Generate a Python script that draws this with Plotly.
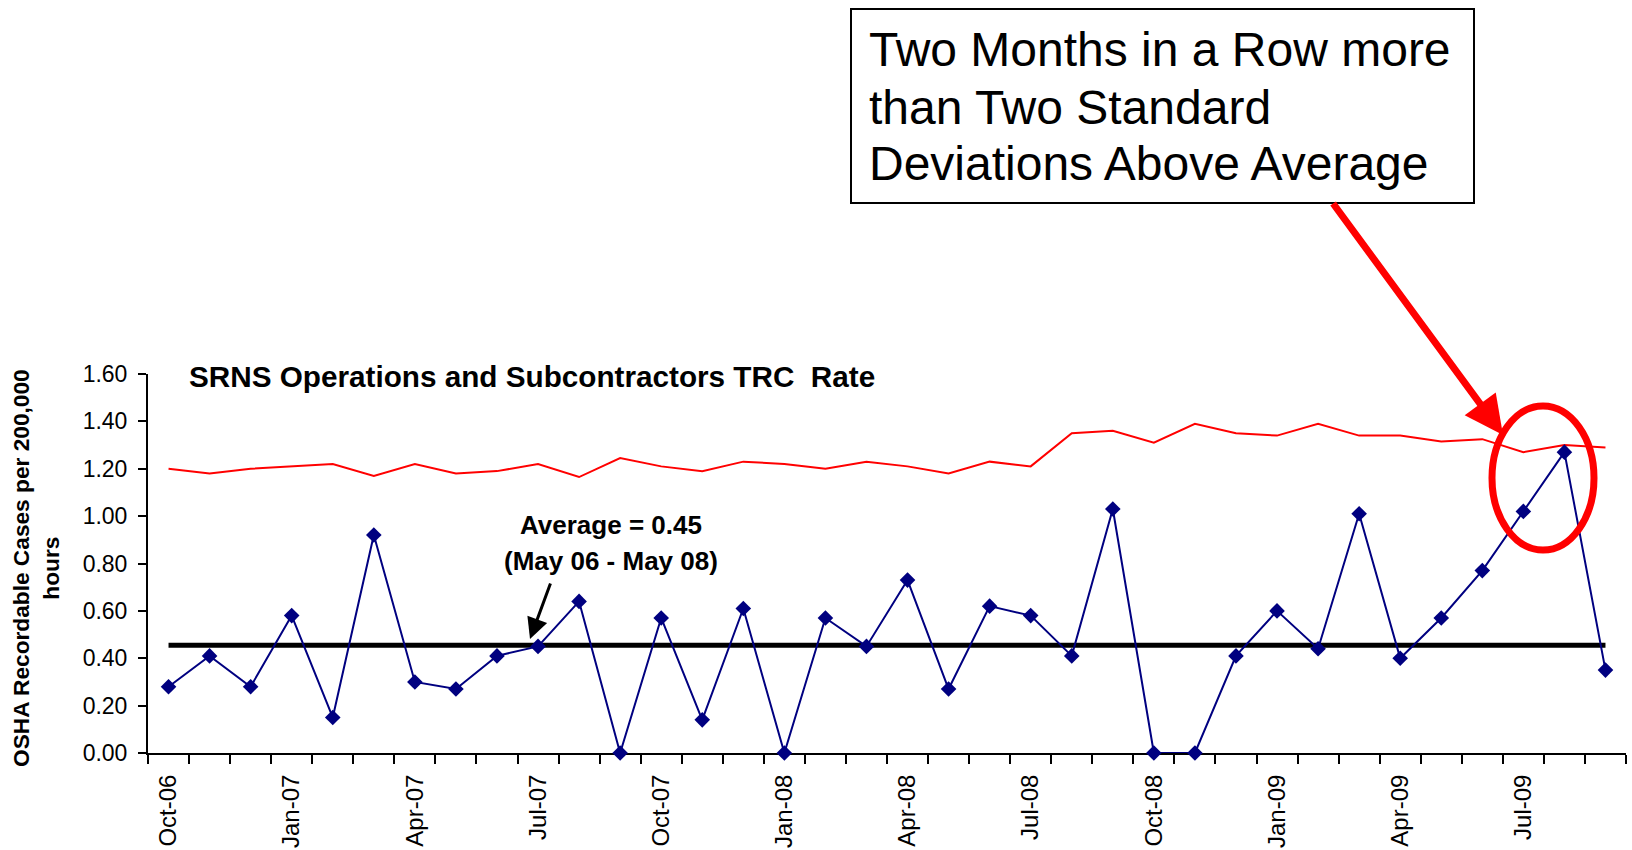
import plotly.graph_objects as go

# ---------------- data ----------------
categories = [
    "Oct-06", "Nov-06", "Dec-06", "Jan-07", "Feb-07", "Mar-07", "Apr-07", "May-07", "Jun-07",
    "Jul-07", "Aug-07", "Sep-07", "Oct-07", "Nov-07", "Dec-07", "Jan-08", "Feb-08", "Mar-08",
    "Apr-08", "May-08", "Jun-08", "Jul-08", "Aug-08", "Sep-08", "Oct-08", "Nov-08", "Dec-08",
    "Jan-09", "Feb-09", "Mar-09", "Apr-09", "May-09", "Jun-09", "Jul-09", "Aug-09", "Sep-09",
]
trc_rate = [0.28, 0.41, 0.28, 0.58, 0.15, 0.92, 0.30, 0.27, 0.41, 0.45, 0.64, 0.00,
            0.57, 0.14, 0.61, 0.00, 0.57, 0.45, 0.73, 0.27, 0.62, 0.58, 0.41, 1.03,
            0.00, 0.00, 0.41, 0.60, 0.44, 1.01, 0.40, 0.57, 0.77, 1.02, 1.27, 0.35]
two_sigma_limit = [1.20, 1.18, 1.20, 1.21, 1.22, 1.17, 1.22, 1.18, 1.19, 1.22, 1.165, 1.245,
                   1.21, 1.19, 1.23, 1.22, 1.20, 1.23, 1.21, 1.18, 1.23, 1.21, 1.35, 1.36,
                   1.31, 1.39, 1.35, 1.34, 1.39, 1.34, 1.34, 1.315, 1.325, 1.27, 1.30, 1.29]
average_value = 0.455
average_series = [average_value] * len(categories)
shown_tick_labels = ["Oct-06", "Jan-07", "Apr-07", "Jul-07", "Oct-07", "Jan-08", "Apr-08",
                     "Jul-08", "Oct-08", "Jan-09", "Apr-09", "Jul-09"]
y_ticks = [0.0, 0.2, 0.4, 0.6, 0.8, 1.0, 1.2, 1.4, 1.6]

# ---------------- layout geometry ----------------
W, H = 1632, 850
ML, MR, MT, MB = 148, 6, 374, 97
PW = W - ML - MR
PH = H - MT - MB
FONT = "Liberation Sans, Arial, sans-serif"


def px(x):
    return (x - ML) / PW


def py(y):
    return (H - MB - y) / PH


fig = go.Figure()

fig.add_trace(go.Scatter(
    x=categories, y=two_sigma_limit, mode="lines",
    line=dict(color="#FF0000", width=2), hoverinfo="skip", showlegend=False,
))
fig.add_trace(go.Scatter(
    x=categories, y=average_series, mode="lines",
    line=dict(color="#000000", width=5), hoverinfo="skip", showlegend=False,
))
fig.add_trace(go.Scatter(
    x=categories, y=trc_rate, mode="lines+markers",
    line=dict(color="#000080", width=2),
    marker=dict(symbol="diamond", size=12, color="#000080"),
    cliponaxis=False, showlegend=False,
))

ticktext = [c if c in shown_tick_labels else "" for c in categories]

fig.update_xaxes(
    type="category", range=[-0.5, len(categories) - 0.5],
    tickmode="array", tickvals=categories, ticktext=ticktext,
    tickson="boundaries", ticks="outside", ticklen=9, tickwidth=2, tickcolor="black",
    tickangle=-90, tickfont=dict(family=FONT, size=24, color="black"),
    ticklabelstandoff=10,
    showline=True, linecolor="black", linewidth=2, showgrid=False, zeroline=False,
    layer="below traces", automargin=False,
)
fig.update_yaxes(
    range=[0, 1.6], tickmode="array", tickvals=y_ticks,
    ticktext=[f"{v:.2f}" for v in y_ticks],
    ticks="outside", ticklen=8, tickwidth=2, tickcolor="black",
    tickfont=dict(family=FONT, size=23, color="black"), ticklabelstandoff=6,
    showline=True, linecolor="black", linewidth=2, showgrid=False, zeroline=False,
    layer="below traces", automargin=False,
)

annotations = [
    dict(text="<b>SRNS Operations and Subcontractors TRC\u00a0 Rate</b>",
         x=px(187), y=py(376), xanchor="left", yanchor="middle",
         font=dict(family=FONT, size=29.7, color="black")),
    dict(text="<b>OSHA Recordable Cases per 200,000</b><br><b>hours</b>",
         x=px(36), y=py(568), xanchor="center", yanchor="middle", textangle=-90,
         font=dict(family=FONT, size=22.7, color="black")),
    dict(text="<b>Average = 0.45</b>", x=px(611), y=py(525), xanchor="center", yanchor="middle",
         font=dict(family=FONT, size=26, color="black")),
    dict(text="<b>(May 06 - May 08)</b>", x=px(611), y=py(561), xanchor="center", yanchor="middle",
         font=dict(family=FONT, size=26, color="black")),
    dict(text="Two Months in a Row more", x=px(867), y=py(49), xanchor="left", yanchor="middle",
         font=dict(family=FONT, size=48, color="black")),
    dict(text="than Two Standard", x=px(867), y=py(107), xanchor="left", yanchor="middle",
         font=dict(family=FONT, size=48, color="black")),
    dict(text="Deviations Above Average", x=px(867), y=py(164), xanchor="left", yanchor="middle",
         font=dict(family=FONT, size=48, color="black")),
    # black arrow to the average line
    dict(text="", x=px(530), y=py(639), ax=551 - 530, ay=582 - 639, axref="pixel", ayref="pixel",
         showarrow=True, arrowhead=2, arrowsize=1.4, arrowwidth=3, arrowcolor="black"),
    # red arrow from box to the circle
    dict(text="", x=px(1503), y=py(435), ax=1332 - 1503, ay=202 - 435, axref="pixel", ayref="pixel",
         showarrow=True, arrowhead=2, arrowsize=1.1, arrowwidth=7, arrowcolor="#FF0000"),
]
for a in annotations:
    a.setdefault("xref", "paper")
    a.setdefault("yref", "paper")
    a.setdefault("showarrow", False)

shapes = [
    dict(type="rect", xref="paper", yref="paper", x0=px(851), x1=px(1474), y0=py(203), y1=py(9),
         line=dict(color="black", width=2), fillcolor="rgba(0,0,0,0)"),
    dict(type="circle", xref="paper", yref="paper", x0=px(1492), x1=px(1594), y0=py(550), y1=py(406),
         line=dict(color="#FF0000", width=7)),
]

fig.update_layout(
    width=W, height=H, margin=dict(l=ML, r=MR, t=MT, b=MB, pad=0, autoexpand=False),
    paper_bgcolor="white", plot_bgcolor="white", showlegend=False,
    annotations=annotations, shapes=shapes,
    font=dict(family=FONT, color="black"),
)

fig.write_html("out.html", include_plotlyjs=True, config={"displayModeBar": False},
               post_script="document.body.style.margin='0';document.body.style.overflow='hidden';")
